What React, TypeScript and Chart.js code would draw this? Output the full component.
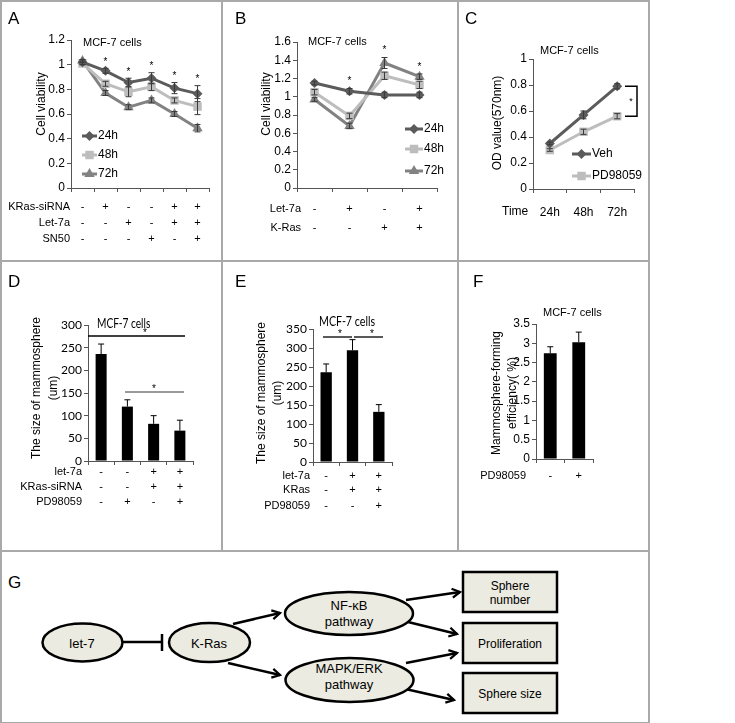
import React, { useEffect, useRef } from 'react';
import { Chart, registerables } from 'chart.js';
Chart.register(...registerables);

const FONT = "'Liberation Sans', Arial, Helvetica, sans-serif";
const FONT2 = "Lato, 'Liberation Sans', sans-serif";
const AXIS = '#555555';
const DARK = '#5b5b5b';
const LIGHT = '#bdbdbd';
const MID = '#828282';

// ---------- Panel A ----------
const A_categories = ['g1', 'g2', 'g3', 'g4', 'g5', 'g6'];
const A_24h = [1.02, 0.95, 0.855, 0.89, 0.81, 0.765];
const A_48h = [1.01, 0.845, 0.78, 0.82, 0.71, 0.66];
const A_72h = [1.03, 0.77, 0.655, 0.71, 0.6, 0.485];
const A_24h_err = [0.02, 0.02, 0.035, 0.045, 0.045, 0.065];
const A_48h_err = [0.01, 0.02, 0.04, 0.03, 0.02, 0.065];
const A_72h_err = [0.01, 0.02, 0.02, 0.02, 0.02, 0.03];
const A_stars = [false, true, true, true, true, true];
const A_rowLabels = ['KRas-siRNA', 'Let-7a', 'SN50'];
const A_rowSigns = [
  ['-', '+', '-', '-', '+', '+'],
  ['-', '-', '+', '-', '+', '+'],
  ['-', '-', '-', '+', '-', '+'],
];

// ---------- Panel B ----------
const B_categories = ['g1', 'g2', 'g3', 'g4'];
const B_24h = [1.15, 1.06, 1.02, 1.02];
const B_48h = [1.05, 0.79, 1.23, 1.13];
const B_72h = [0.97, 0.68, 1.37, 1.22];
const B_24h_err = [0.02, 0.03, 0.03, 0.03];
const B_48h_err = [0.03, 0.03, 0.04, 0.04];
const B_72h_err = [0.02, 0.03, 0.06, 0.03];
const B_stars = [false, true, true, true];
const B_rowLabels = ['Let-7a', 'K-Ras'];
const B_rowSigns = [
  ['-', '+', '-', '+'],
  ['-', '-', '+', '+'],
];

// ---------- Panel C ----------
const C_categories = ['24h', '48h', '72h'];
const C_veh = [0.35, 0.57, 0.79];
const C_pd = [0.3, 0.44, 0.56];
const C_veh_err = [0.01, 0.03, 0.02];
const C_pd_err = [0.01, 0.02, 0.02];

// ---------- Panel D ----------
const D_categories = ['g1', 'g2', 'g3', 'g4'];
const D_values = [236, 120, 82, 67];
const D_err = [22, 15, 18, 23];
const D_rowLabels = ['let-7a', 'KRas-siRNA', 'PD98059'];
const D_rowSigns = [
  ['-', '-', '+', '+'],
  ['-', '-', '+', '+'],
  ['-', '+', '-', '+'],
];

// ---------- Panel E ----------
const E_categories = ['g1', 'g2', 'g3'];
const E_values = [236, 294, 132];
const E_err = [22, 28, 19];
const E_rowLabels = ['let-7a', 'KRas', 'PD98059'];
const E_rowSigns = [
  ['-', '+', '+'],
  ['-', '+', '+'],
  ['-', '-', '+'],
];

// ---------- Panel F ----------
const F_categories = ['g1', 'g2'];
const F_values = [2.74, 3.03];
const F_err = [0.17, 0.26];
const F_rowLabels = ['PD98059'];
const F_rowSigns = [['-', '+']];

// ---------- helpers ----------
function text(
  ctx: CanvasRenderingContext2D,
  s: string,
  x: number,
  y: number,
  size: number,
  align: CanvasTextAlign = 'left',
  rotate = false,
  color = '#000',
  family = FONT,
  sx = 1
) {
  ctx.save();
  ctx.font = `${size}px ${family}`;
  ctx.fillStyle = color;
  ctx.textAlign = align;
  ctx.textBaseline = 'middle';
  ctx.translate(x, y);
  if (rotate) ctx.rotate(-Math.PI / 2);
  ctx.scale(sx, 1);
  ctx.fillText(s, 0, 0);
  ctx.restore();
}

function marker(ctx: CanvasRenderingContext2D, style: string, x: number, y: number, r: number, color: string) {
  ctx.save();
  ctx.fillStyle = color;
  ctx.beginPath();
  if (style === 'rectRot') {
    ctx.moveTo(x - r, y);
    ctx.lineTo(x, y - r);
    ctx.lineTo(x + r, y);
    ctx.lineTo(x, y + r);
  } else if (style === 'rect') {
    const s = r * Math.SQRT1_2;
    ctx.rect(x - s, y - s, 2 * s, 2 * s);
  } else {
    ctx.moveTo(x, y - r);
    ctx.lineTo(x + r * 0.866, y + r / 2);
    ctx.lineTo(x - r * 0.866, y + r / 2);
  }
  ctx.closePath();
  ctx.fill();
  ctx.restore();
}

function legendItem(ctx: CanvasRenderingContext2D, ds: any, x1: number, x2: number, y: number, size: number) {
  ctx.save();
  ctx.strokeStyle = ds.borderColor;
  ctx.lineWidth = 3;
  ctx.beginPath();
  ctx.moveTo(x1, y);
  ctx.lineTo(x2, y);
  ctx.stroke();
  ctx.restore();
  marker(ctx, ds.pointStyle, (x1 + x2) / 2, y, ds.pointRadius, ds.borderColor);
  text(ctx, ds.label, x2 + 1, y, size);
}

function signTable(
  chart: any,
  labels: string[],
  signs: string[][],
  rowsY: number[],
  labelRight: number,
  size: number
) {
  const ctx = chart.ctx;
  const xs = chart.scales.x;
  labels.forEach((lab, r) => {
    text(ctx, lab, labelRight, rowsY[r], size, 'right');
    signs[r].forEach((s, i) => {
      text(ctx, s, xs.getPixelForValue(i), rowsY[r], size, 'center');
    });
  });
}

const errorBars = {
  id: 'errorBars',
  afterDatasetsDraw(chart: any) {
    const ctx = chart.ctx;
    const ys = chart.scales.y;
    chart.data.datasets.forEach((ds: any, i: number) => {
      if (!ds.errors) return;
      const meta = chart.getDatasetMeta(i);
      meta.data.forEach((el: any, j: number) => {
        const v = ds.data[j];
        const e = ds.errors[j];
        if (!e) return;
        const x = el.x;
        const cap = ds.errCap || 3;
        const top = ys.getPixelForValue(v + e);
        const bot = ds.errDown ? ys.getPixelForValue(v - e) : ys.getPixelForValue(v);
        ctx.save();
        ctx.strokeStyle = ds.errColor || '#000';
        ctx.lineWidth = 1;
        ctx.beginPath();
        ctx.moveTo(x, top);
        ctx.lineTo(x, bot);
        ctx.moveTo(x - cap, top);
        ctx.lineTo(x + cap, top);
        if (ds.errDown) {
          ctx.moveTo(x - cap, bot);
          ctx.lineTo(x + cap, bot);
        }
        ctx.stroke();
        ctx.restore();
      });
    });
  },
};

function lineDs(label: string, data: number[], errors: number[], color: string, pointStyle: string, radius: number) {
  return {
    label,
    data,
    errors,
    errDown: true,
    errCap: 3,
    errColor: '#3a3a3a',
    borderColor: color,
    backgroundColor: color,
    pointBackgroundColor: color,
    pointBorderColor: color,
    pointStyle,
    pointRadius: radius,
    pointBorderWidth: 0,
    borderWidth: 3,
    tension: 0,
  };
}

function barDs(data: number[], errors: number[], pct: number) {
  return {
    data,
    errors,
    errCap: 3,
    errColor: '#000',
    backgroundColor: '#000',
    borderWidth: 0,
    barPercentage: pct,
    categoryPercentage: 1,
  };
}

const tickFmt = (v: any) => String(Number(Number(v).toFixed(2)));

function yAxis(min: number, max: number, step: number, size: number, family = FONT) {
  return {
    min,
    max,
    ticks: { stepSize: step, color: '#000', font: { size, family }, padding: 2, callback: tickFmt },
    grid: { drawOnChartArea: false, drawTicks: true, tickLength: 4, color: AXIS },
    border: { display: true, color: AXIS, width: 1 },
  };
}

function xAxis(height: number, showTicks = false, padding = 4) {
  return {
    type: 'category',
    offset: true,
    ticks: { display: showTicks, color: '#000', font: { size: 12, family: FONT }, padding, maxRotation: 0 },
    grid: { offset: true, drawOnChartArea: false, drawTicks: true, tickLength: 4, color: AXIS },
    border: { display: true, color: AXIS, width: 1 },
    afterFit: (s: any) => {
      s.height = height;
    },
  };
}

function options(W: number, H: number, area: { l: number; r: number; t: number; b: number }, y: any, xShow = false, xPad = 4) {
  return {
    responsive: false,
    animation: false,
    events: [],
    layout: { padding: { left: 0, top: area.t, right: W - area.r, bottom: 0 } },
    plugins: { legend: { display: false }, tooltip: { enabled: false }, title: { display: false } },
    scales: {
      x: xAxis(H - area.b, xShow, xPad),
      y: { ...y, afterFit: (s: any) => { s.width = area.l; } },
    },
  };
}

// ---------- chart configs ----------
function buildA() {
  const W = 222, H = 261;
  return {
    type: 'line',
    data: {
      labels: A_categories,
      datasets: [
        lineDs('24h', A_24h, A_24h_err, DARK, 'rectRot', 5),
        lineDs('48h', A_48h, A_48h_err, LIGHT, 'rect', 6),
        lineDs('72h', A_72h, A_72h_err, MID, 'triangle', 6),
      ],
    },
    options: options(W, H, { l: 71, r: 209, t: 40, b: 188 }, yAxis(0, 1.2, 0.2, 12)),
    plugins: [
      errorBars,
      {
        id: 'decorA',
        afterDraw(chart: any) {
          const ctx = chart.ctx;
          const xs = chart.scales.x;
          const ys = chart.scales.y;
          text(ctx, 'MCF-7 cells', 83, 43, 11);
          text(ctx, 'Cell viability', 42, 104, 12, 'center', true);
          A_stars.forEach((s, i) => {
            if (!s) return;
            const v = A_24h[i] + A_24h_err[i];
            text(ctx, '*', xs.getPixelForValue(i), ys.getPixelForValue(v) - 6, 10, 'center');
          });
          const ds = chart.data.datasets;
          legendItem(ctx, ds[0], 82, 97, 136, 12);
          legendItem(ctx, ds[1], 82, 97, 155, 12);
          legendItem(ctx, ds[2], 82, 97, 174, 12);
          signTable(chart, A_rowLabels, A_rowSigns, [207, 223, 239], 70, 11);
        },
      },
    ],
  };
}

function buildB() {
  const W = 236, H = 261;
  return {
    type: 'line',
    data: {
      labels: B_categories,
      datasets: [
        lineDs('24h', B_24h, B_24h_err, DARK, 'rectRot', 5),
        lineDs('48h', B_48h, B_48h_err, LIGHT, 'rect', 6),
        lineDs('72h', B_72h, B_72h_err, MID, 'triangle', 6),
      ],
    },
    options: options(W, H, { l: 75, r: 215, t: 42, b: 188 }, yAxis(0, 1.6, 0.2, 12)),
    plugins: [
      errorBars,
      {
        id: 'decorB',
        afterDraw(chart: any) {
          const ctx = chart.ctx;
          const xs = chart.scales.x;
          const ys = chart.scales.y;
          text(ctx, 'MCF-7 cells', 86, 42, 11);
          text(ctx, 'Cell viability', 45, 104, 12, 'center', true);
          B_stars.forEach((s, i) => {
            if (!s) return;
            const v = Math.max(B_24h[i] + B_24h_err[i], B_48h[i] + B_48h_err[i], B_72h[i] + B_72h_err[i]);
            text(ctx, '*', xs.getPixelForValue(i), ys.getPixelForValue(v) - 7, 10, 'center');
          });
          const ds = chart.data.datasets;
          legendItem(ctx, ds[0], 183, 201, 129, 12);
          legendItem(ctx, ds[1], 183, 201, 149, 12);
          legendItem(ctx, ds[2], 183, 201, 171, 12);
          signTable(chart, B_rowLabels, B_rowSigns, [209, 228], 79, 11);
        },
      },
    ],
  };
}

function buildC() {
  const W = 190, H = 261;
  return {
    type: 'line',
    data: {
      labels: C_categories,
      datasets: [
        lineDs('Veh', C_veh, C_veh_err, DARK, 'rectRot', 5),
        lineDs('PD98059', C_pd, C_pd_err, LIGHT, 'rect', 6),
      ],
    },
    options: options(W, H, { l: 75, r: 176, t: 59, b: 189 }, yAxis(0, 1, 0.2, 12), true, 12),
    plugins: [
      errorBars,
      {
        id: 'decorC',
        afterDraw(chart: any) {
          const ctx = chart.ctx;
          const ys = chart.scales.y;
          text(ctx, 'MCF-7 cells', 82, 51, 11);
          text(ctx, 'OD value(570nm)', 40, 123, 12, 'center', true);
          text(ctx, 'Time', 44, 212, 12);
          const ds = chart.data.datasets;
          legendItem(ctx, ds[0], 114, 133, 154, 12);
          legendItem(ctx, ds[1], 114, 133, 176, 12);
          const y1 = ys.getPixelForValue(C_veh[2]);
          const y2 = ys.getPixelForValue(C_pd[2]);
          ctx.save();
          ctx.strokeStyle = '#000';
          ctx.lineWidth = 1.5;
          ctx.beginPath();
          ctx.moveTo(167, y1);
          ctx.lineTo(179, y1);
          ctx.lineTo(179, y2);
          ctx.lineTo(167, y2);
          ctx.stroke();
          ctx.restore();
          text(ctx, '*', 173, (y1 + y2) / 2, 9, 'center');
        },
      },
    ],
  };
}

function sigLine(ctx: CanvasRenderingContext2D, x1: number, x2: number, y: number, color: string, starX: number) {
  ctx.save();
  ctx.strokeStyle = color;
  ctx.lineWidth = 1.3;
  ctx.beginPath();
  ctx.moveTo(x1, y);
  ctx.lineTo(x2, y);
  ctx.stroke();
  ctx.restore();
  text(ctx, '*', starX, y - 3, 10, 'center');
}

function buildD() {
  const W = 222, H = 290;
  return {
    type: 'bar',
    data: { labels: D_categories, datasets: [barDs(D_values, D_err, 0.42)] },
    options: options(W, H, { l: 88, r: 193, t: 64, b: 200 }, yAxis(0, 300, 50, 12, FONT2)),
    plugins: [
      errorBars,
      {
        id: 'decorD',
        afterDraw(chart: any) {
          const ctx = chart.ctx;
          text(ctx, 'MCF-7 cells', 97, 63, 13, 'left', false, '#000', FONT2, 0.78);
          text(ctx, 'The size of mammosphere', 37, 127, 12, 'center', true);
          text(ctx, '(um)', 54, 127, 12, 'center', true);
          sigLine(ctx, 88, 185, 75, '#000', 145);
          sigLine(ctx, 125, 184, 131, '#777', 154);
          signTable(chart, D_rowLabels, D_rowSigns, [211, 226, 241], 82, 11);
        },
      },
    ],
  };
}

function buildE() {
  const W = 236, H = 290;
  return {
    type: 'bar',
    data: { labels: E_categories, datasets: [barDs(E_values, E_err, 0.43)] },
    options: options(W, H, { l: 91, r: 170, t: 68, b: 201 }, yAxis(0, 350, 50, 12, FONT2)),
    plugins: [
      errorBars,
      {
        id: 'decorE',
        afterDraw(chart: any) {
          const ctx = chart.ctx;
          text(ctx, 'MCF-7 cells', 97, 61, 13, 'left', false, '#000', FONT2, 0.82);
          text(ctx, 'The size of mammosphere', 40, 132, 12, 'center', true);
          text(ctx, '(um)', 56, 132, 12, 'center', true);
          sigLine(ctx, 101, 130, 76, '#000', 118);
          sigLine(ctx, 132, 161, 76, '#000', 150);
          signTable(chart, E_rowLabels, E_rowSigns, [215, 229, 245], 88, 11);
        },
      },
    ],
  };
}

function buildF() {
  const W = 190, H = 290;
  return {
    type: 'bar',
    data: { labels: F_categories, datasets: [barDs(F_values, F_err, 0.45)] },
    options: options(W, H, { l: 78, r: 135, t: 63, b: 198 }, yAxis(0, 3.5, 0.5, 12)),
    plugins: [
      errorBars,
      {
        id: 'decorF',
        afterDraw(chart: any) {
          const ctx = chart.ctx;
          text(ctx, 'MCF-7 cells', 85, 52, 11);
          text(ctx, 'Mammosphere-forming', 39, 132, 12, 'center', true);
          text(ctx, 'efficiency( %)', 55, 132, 12, 'center', true);
          signTable(chart, F_rowLabels, F_rowSigns, [215], 68, 11);
        },
      },
    ],
  };
}

function ChartPanel(props: { left: number; top: number; width: number; height: number; build: () => any }) {
  const ref = useRef<HTMLCanvasElement>(null);
  useEffect(() => {
    const chart = new Chart(ref.current as HTMLCanvasElement, props.build());
    return () => chart.destroy();
  }, []);
  return (
    <canvas
      ref={ref}
      width={props.width}
      height={props.height}
      style={{ position: 'absolute', left: props.left, top: props.top, width: props.width, height: props.height }}
    />
  );
}

function Letter(props: { s: string; x: number; y: number }) {
  return (
    <div
      style={{
        position: 'absolute',
        left: props.x,
        top: props.y,
        fontFamily: FONT,
        fontSize: 17,
        lineHeight: '17px',
        color: '#000',
      }}
    >
      {props.s}
    </div>
  );
}

function Diagram() {
  const fill = '#ebebe1';
  const sw = 2.5;
  const tf = { fontFamily: FONT, fill: '#000', textAnchor: 'middle' as const, dominantBaseline: 'central' as const };
  return (
    <svg width={648} height={172} style={{ position: 'absolute', left: 0, top: 551 }}>
      <defs>
        <marker id="arr" viewBox="0 0 10 10" refX="8" refY="5" markerWidth="4.5" markerHeight="4.5" orient="auto">
          <path d="M1,1 L8,5 L1,9" fill="none" stroke="#000" strokeWidth="2" />
        </marker>
      </defs>
      <g transform="translate(0,-551)">
        <text x={8} y={582} style={{ fontFamily: FONT, fontSize: 17 }} dominantBaseline="central">G</text>
        <line x1={123} y1={642} x2={162} y2={642} stroke="#000" strokeWidth={sw} />
        <line x1={162} y1={634} x2={162} y2={651} stroke="#000" strokeWidth={sw} />
        <line x1={233} y1={624} x2={280} y2={613} stroke="#000" strokeWidth={sw} markerEnd="url(#arr)" />
        <line x1={228} y1={663} x2={280} y2={675} stroke="#000" strokeWidth={sw} markerEnd="url(#arr)" />
        <line x1={406} y1={600} x2={460} y2={592} stroke="#000" strokeWidth={sw} markerEnd="url(#arr)" />
        <line x1={408} y1={622} x2={457} y2={634} stroke="#000" strokeWidth={sw} markerEnd="url(#arr)" />
        <line x1={406} y1={663} x2={457} y2={653} stroke="#000" strokeWidth={sw} markerEnd="url(#arr)" />
        <line x1={401} y1={688} x2={454} y2={700} stroke="#000" strokeWidth={sw} markerEnd="url(#arr)" />
        <ellipse cx={82.5} cy={642.5} rx={40} ry={19} fill={fill} stroke="#000" strokeWidth={sw} />
        <ellipse cx={209.5} cy={642.5} rx={40.5} ry={19.5} fill={fill} stroke="#000" strokeWidth={sw} />
        <ellipse cx={349} cy={613.5} rx={64} ry={21.5} fill={fill} stroke="#000" strokeWidth={sw} />
        <ellipse cx={349.5} cy={680} rx={64} ry={22} fill={fill} stroke="#000" strokeWidth={sw} />
        <rect x={463} y={572} width={94} height={40} fill={fill} stroke="#000" strokeWidth={sw} />
        <rect x={463} y={623} width={94} height={40} fill={fill} stroke="#000" strokeWidth={sw} />
        <rect x={463} y={673} width={94} height={40} fill={fill} stroke="#000" strokeWidth={sw} />
        <text x={82} y={643} {...tf} fontSize={13}>let-7</text>
        <text x={209} y={643} {...tf} fontSize={13}>K-Ras</text>
        <text x={349} y={605} {...tf} fontSize={13}>NF-κB</text>
        <text x={349} y={621} {...tf} fontSize={13}>pathway</text>
        <text x={349} y={668} {...tf} fontSize={13}>MAPK/ERK</text>
        <text x={349} y={684} {...tf} fontSize={13}>pathway</text>
        <text x={510} y={586} {...tf} fontSize={12}>Sphere</text>
        <text x={510} y={600} {...tf} fontSize={12}>number</text>
        <text x={510} y={644} {...tf} fontSize={12}>Proliferation</text>
        <text x={510} y={694} {...tf} fontSize={12}>Sphere size</text>
      </g>
    </svg>
  );
}

const lineColor = '#a9a9a9';

export default function App() {
  return (
    <div style={{ position: 'absolute', left: 0, top: 0, width: 735, height: 723, background: '#fff', overflow: 'hidden' }}>
      <ChartPanel left={0} top={0} width={222} height={261} build={buildA} />
      <ChartPanel left={222} top={0} width={236} height={261} build={buildB} />
      <ChartPanel left={458} top={0} width={190} height={261} build={buildC} />
      <ChartPanel left={0} top={261} width={222} height={290} build={buildD} />
      <ChartPanel left={222} top={261} width={236} height={290} build={buildE} />
      <ChartPanel left={458} top={261} width={190} height={290} build={buildF} />
      <Diagram />
      <Letter s="A" x={8} y={10} />
      <Letter s="B" x={235} y={10} />
      <Letter s="C" x={465} y={10} />
      <Letter s="D" x={8} y={273} />
      <Letter s="E" x={235} y={273} />
      <Letter s="F" x={473} y={273} />
      <div style={{ position: 'absolute', left: 0, top: 0, width: 650, height: 724, border: `2px solid ${lineColor}`, boxSizing: 'border-box' }} />
      <div style={{ position: 'absolute', left: 0, top: 260, width: 649, height: 2, background: lineColor }} />
      <div style={{ position: 'absolute', left: 0, top: 550, width: 649, height: 2, background: lineColor }} />
      <div style={{ position: 'absolute', left: 221, top: 0, width: 2, height: 551, background: lineColor }} />
      <div style={{ position: 'absolute', left: 457, top: 0, width: 2, height: 551, background: lineColor }} />
    </div>
  );
}
